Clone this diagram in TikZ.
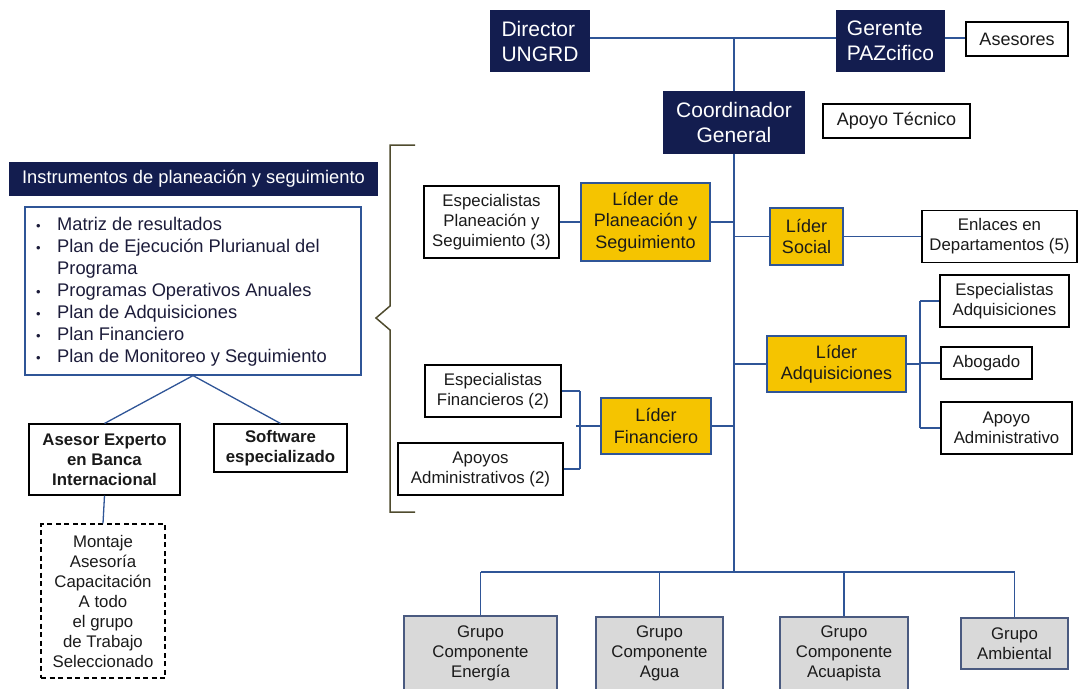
\documentclass[tikz,border=0pt]{standalone}
\usepackage{fontspec}
\setmainfont{Liberation Sans}
\definecolor{navy}{HTML}{131D4F}
\definecolor{lineblue}{HTML}{2F5597}
\definecolor{gold}{HTML}{F5C400}
\definecolor{greyfill}{HTML}{D9D9D9}
\definecolor{greyborder}{HTML}{4A5A80}
\definecolor{txt}{HTML}{1A1A1A}
\definecolor{listtxt}{HTML}{1C1C3A}
\definecolor{bracecol}{HTML}{4F4B2E}
\begin{document}
\begin{tikzpicture}[x=1pt,y=-1pt,
  conn/.style={draw=lineblue, line width=1.3pt},
  navybox/.style={fill=navy, text=white, inner sep=0pt, font=\fontsize{21}{25}\selectfont},
  wbox/.style={draw=black, fill=white, line width=1.1pt, inner sep=0pt, align=center, text=txt, font=\fontsize{16.8}{20}\selectfont},
  bbox/.style={wbox, font=\bfseries\fontsize{16.8}{20}\selectfont},
  ybox/.style={draw=lineblue, fill=gold, line width=1.1pt, inner sep=0pt, align=center, text=txt, font=\fontsize{18}{21.5}\selectfont},
  gbox/.style={draw=greyborder, fill=greyfill, line width=1.1pt, inner sep=0pt, align=center, text=txt, font=\fontsize{16.8}{20}\selectfont},
  dbox/.style={draw=black, dashed, dash pattern=on 5pt off 3.5pt, line width=1.1pt, inner sep=0pt, align=center, text=txt, font=\fontsize{16.8}{20}\selectfont}
]
\useasboundingbox (0,0) rectangle (1078,688);

% ---- top
\node[navybox, minimum width=100pt, minimum height=62pt, align=left] (dir) at (540,41) {Director\\UNGRD};
\node[navybox, minimum width=109pt, minimum height=62pt, align=left] (ger) at (890.5,41) {Gerente\\PAZcifico};
\node[wbox, minimum width=102pt, minimum height=34pt, font=\fontsize{18}{21.5}\selectfont] (ases) at (1017,39) {Asesores};
\node[navybox, minimum width=142pt, minimum height=63pt, align=center] (coord) at (734,122.5) {Coordinador\\General};
\node[wbox, minimum width=147pt, minimum height=34pt, font=\fontsize{18}{21.5}\selectfont] (apt) at (896.5,121) {Apoyo T\'ecnico};

\coordinate (topline) at (734,38);
\draw[conn] (dir.east |- topline) -- (ger.west |- topline);
\draw[conn] (ger.east |- topline) -- (ases.west |- topline);
\draw[conn] (coord.north) -- (topline);
\coordinate (bus) at (734,572);
\draw[conn] (coord.south) -- (bus);

% ---- planeacion
\node[wbox, minimum width=135pt, minimum height=72pt] (espplan) at (491.5,222) {Especialistas\\Planeaci\'on y\\Seguimiento (3)};
\node[ybox, minimum width=129pt, minimum height=78pt] (lplan) at (645.5,222) {L\'ider de\\Planeaci\'on y\\Seguimiento};
\draw[conn] (espplan.east) -- (lplan.west);
\draw[conn] (lplan.east) -- (lplan.east -| bus);

% ---- social
\node[ybox, minimum width=73pt, minimum height=57pt] (lsoc) at (806.5,236.5) {L\'ider\\Social};
\node[wbox, minimum width=155pt, minimum height=52pt] (enl) at (999.5,236.5) {Enlaces en\\Departamentos (5)};
\draw[conn] (lsoc.west -| bus) -- (lsoc.west);
\draw[conn] (lsoc.east) -- (enl.west);

% ---- adquisiciones
\node[ybox, minimum width=139pt, minimum height=56pt] (ladq) at (836.5,364) {L\'ider\\Adquisiciones};
\node[wbox, minimum width=129pt, minimum height=52pt] (espadq) at (1004.5,301) {Especialistas\\Adquisiciones};
\node[wbox, minimum width=91pt, minimum height=32pt] (abog) at (986.5,363) {Abogado};
\node[wbox, minimum width=131pt, minimum height=52pt] (apadm) at (1006.5,428) {Apoyo\\Administrativo};
\coordinate (adqv) at (920,364);
\draw[conn] (ladq.west -| bus) -- (ladq.west);
\draw[conn] (ladq.east) -- (adqv);
\draw[conn] (adqv |- espadq.west) -- (adqv |- apadm.west);
\draw[conn] (adqv |- espadq.west) -- (espadq.west);
\draw[conn] (adqv |- abog.west) -- (abog.west);
\draw[conn] (adqv |- apadm.west) -- (apadm.west);

% ---- financiero
\node[ybox, minimum width=110pt, minimum height=56pt] (lfin) at (656,426) {L\'ider\\Financiero};
\node[wbox, minimum width=136pt, minimum height=52pt] (espfin) at (493,391) {Especialistas\\Financieros (2)};
\node[wbox, minimum width=165pt, minimum height=52pt] (apfin) at (480.5,469) {Apoyos\\Administrativos (2)};
\coordinate (finv) at (580,426);
\draw[conn] (lfin.east) -- (lfin.east -| bus);
\draw[conn] (lfin.west) -- ([xshift=-4pt]finv);
\draw[conn] (finv |- espfin.east) -- (finv |- apfin.east);
\draw[conn] (espfin.east) -- (finv |- espfin.east);
\draw[conn] (apfin.east) -- (finv |- apfin.east);

% ---- grupos
\node[gbox, minimum width=153pt, minimum height=74pt] (genr) at (480.5,653) {Grupo\\Componente\\Energ\'ia};
\node[gbox, minimum width=127pt, minimum height=73pt] (gagua) at (659.5,653.5) {Grupo\\Componente\\Agua};
\node[gbox, minimum width=128pt, minimum height=73pt] (gacua) at (844,653.5) {Grupo\\Componente\\Acuapista};
\node[gbox, minimum width=107pt, minimum height=51pt] (gamb) at (1014.5,643.5) {Grupo\\Ambiental};
\draw[conn] (genr.north |- bus) -- (gamb.north |- bus);
\draw[conn] (genr.north |- bus) -- (genr.north);
\draw[conn] (gagua.north |- bus) -- (gagua.north);
\draw[conn] (gacua.north |- bus) -- (gacua.north);
\draw[conn] (gamb.north |- bus) -- (gamb.north);

% ---- left side
\node[fill=navy, text=white, inner sep=0pt, minimum width=369pt, minimum height=34pt,
      font=\fontsize{18.3}{22}\selectfont] (instr) at (193.5,179) {Instrumentos de planeaci\'on y seguimiento};
\node[draw=lineblue, line width=1.2pt, fill=white, minimum width=336pt, minimum height=168pt, inner sep=0pt] (list) at (193,291) {};
\node[anchor=west, inner sep=0pt, text=listtxt, font=\fontsize{18.3}{22}\selectfont] (listtext) at (36,292)
 {\begin{tabular}{@{}p{21pt}@{}l@{}}
  {\fontsize{13}{22}\selectfont\textbullet} & Matriz de resultados\\
  {\fontsize{13}{22}\selectfont\textbullet} & Plan de Ejecuci\'on Plurianual del\\
   & Programa\\
  {\fontsize{13}{22}\selectfont\textbullet} & Programas Operativos Anuales\\
  {\fontsize{13}{22}\selectfont\textbullet} & Plan de Adquisiciones\\
  {\fontsize{13}{22}\selectfont\textbullet} & Plan Financiero\\
  {\fontsize{13}{22}\selectfont\textbullet} & Plan de Monitoreo y Seguimiento
 \end{tabular}};
\node[bbox, minimum width=151pt, minimum height=71pt] (asexp) at (104.5,459.5) {Asesor Experto\\en Banca\\Internacional};
\node[bbox, minimum width=133pt, minimum height=48pt] (soft) at (280.5,448) {\raisebox{-2pt}{\begin{tabular}{@{}c@{}}Software\\especializado\end{tabular}}};
\node[dbox, minimum width=124pt, minimum height=154pt] (mont) at (103,601) {Montaje\\Asesor\'ia\\Capacitaci\'on\\A todo\\el grupo\\de Trabajo\\Seleccionado};
\draw[conn] (list.south) -- (asexp.north);
\draw[conn] (list.south) -- (soft.north);
\draw[conn] (asexp.south) -- (mont.north);

% ---- brace
\draw[bracecol, line width=1.5pt, line join=miter]
  (415,145) -- (390,145) -- (390,306) -- (376,318) -- (390,330) -- (390,512) -- (415,512);
\end{tikzpicture}
\end{document}
